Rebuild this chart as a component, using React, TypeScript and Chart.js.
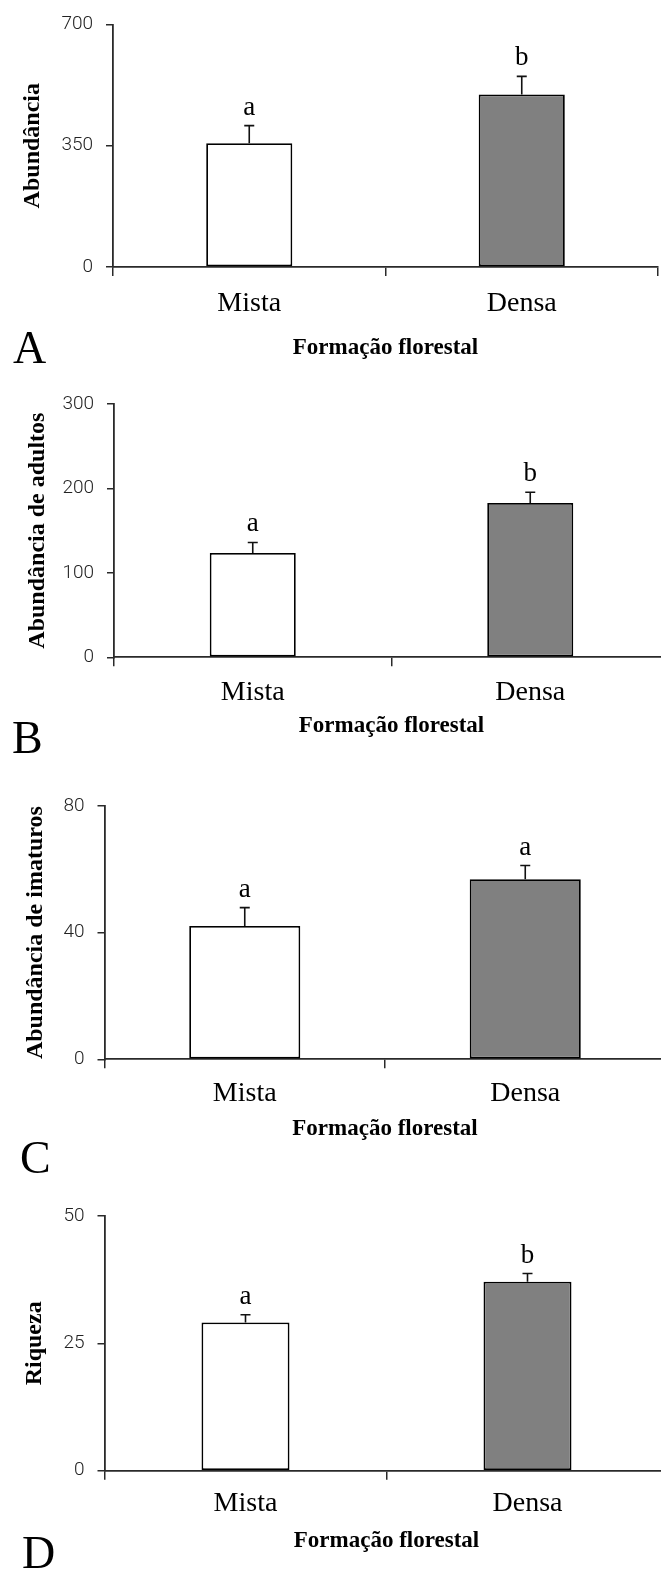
import React, { useEffect, useRef } from "react";
import { Chart, registerables } from "chart.js";

Chart.register(...registerables);

// ---------- data ----------
const categories = ["Mista", "Densa"];
const xAxisTitle = "Formação florestal";
const panelLetters = ["A", "B", "C", "D"];
const yTitles = ["Abundância", "Abundância de adultos", "Abundância de imaturos", "Riqueza"];

const abundanciaMeans = [357, 498];
const abundanciaErrors = [51, 52];
const abundanciaGroups = ["a", "b"];

const adultosMeans = [123.5, 182.8];
const adultosErrors = [12.5, 12.6];
const adultosGroups = ["a", "b"];

const imaturosMeans = [42.1, 56.9];
const imaturosErrors = [5.8, 4.3];
const imaturosGroups = ["a", "a"];

const riquezaMeans = [29.1, 37.1];
const riquezaErrors = [1.5, 1.6];
const riquezaGroups = ["a", "b"];

const yMaxes = [700, 300, 80, 50];
const ySteps = [350, 100, 40, 25];

const seriesMeans = [abundanciaMeans, adultosMeans, imaturosMeans, riquezaMeans];
const seriesErrors = [abundanciaErrors, adultosErrors, imaturosErrors, riquezaErrors];
const seriesGroups = [abundanciaGroups, adultosGroups, imaturosGroups, riquezaGroups];

const barColors = ["#ffffff", "#808080"];

// ---------- layout (pixels, relative to each panel canvas) ----------
const CANVAS_W = 680;
const layouts = [
  { top: 0, height: 375, left: 113, right: 658, areaTop: 14.3, areaBottom: 267, labelPad: 10.7, titlePad: 13.3, yTitlePad: 18.6, letterX: 13, letterY: 363, barPct: 0.316 },
  { top: 375, height: 390, left: 114, right: 669, areaTop: 29, areaBottom: 282.3, labelPad: 9.4, titlePad: 24.8, yTitlePad: 23.6, letterX: 12, letterY: 378, barPct: 0.31 },
  { top: 765, height: 411, left: 104.5, right: 665.5, areaTop: 41, areaBottom: 294.3, labelPad: 8.9, titlePad: 32.8, yTitlePad: 21.6, letterX: 20, letterY: 408, barPct: 0.396 },
  { top: 1176, height: 395, left: 104.5, right: 668.5, areaTop: 40, areaBottom: 294.7, labelPad: 7.5, titlePad: 15.8, yTitlePad: 20.6, letterX: 22, letterY: 392, barPct: 0.312 },
];

const SERIF = '"Liberation Serif", "Times New Roman", serif';
const AXIS_COLOR = "#2a2a2a";

const annotPlugin = {
  id: "annot",
  afterDatasetsDraw(chart: any, _args: any, opts: any) {
    const { ctx } = chart;
    const meta = chart.getDatasetMeta(0);
    const y = chart.scales.y;
    ctx.save();
    meta.data.forEach((bar: any, i: number) => {
      const top = y.getPixelForValue(opts.means[i] + opts.errors[i]);
      const x = bar.x;
      ctx.strokeStyle = "#111111";
      ctx.lineWidth = 1.6;
      ctx.beginPath();
      ctx.moveTo(x, bar.y);
      ctx.lineTo(x, top);
      ctx.moveTo(x - 5, top);
      ctx.lineTo(x + 5, top);
      ctx.stroke();
      ctx.fillStyle = "#000000";
      ctx.font = `27px ${SERIF}`;
      ctx.textAlign = "center";
      ctx.textBaseline = "alphabetic";
      ctx.fillText(opts.groups[i], x, top - 11);
    });
    ctx.fillStyle = "#000000";
    ctx.font = `46px ${SERIF}`;
    ctx.textAlign = "left";
    ctx.textBaseline = "alphabetic";
    ctx.fillText(opts.letter, opts.letterX, opts.letterY);
    ctx.restore();
  },
};

function Panel({ index }: { index: number }) {
  const ref = useRef<HTMLCanvasElement | null>(null);
  const L = layouts[index];

  useEffect(() => {
    if (!ref.current) return;
    const xAxisHeight = L.height - L.areaBottom;
    const chart = new Chart(ref.current, {
      type: "bar",
      data: {
        labels: categories,
        datasets: [
          {
            data: seriesMeans[index],
            backgroundColor: barColors,
            borderColor: "#000000",
            borderWidth: 1.8,
            borderSkipped: false,
            categoryPercentage: 1,
            barPercentage: L.barPct,
          },
        ],
      },
      options: {
        responsive: false,
        animation: false,
        devicePixelRatio: 1,
        layout: { padding: { top: L.areaTop, right: CANVAS_W - L.right, left: 0, bottom: 0 } },
        plugins: {
          legend: { display: false },
          tooltip: { enabled: false },
          annot: {
            means: seriesMeans[index],
            errors: seriesErrors[index],
            groups: seriesGroups[index],
            letter: panelLetters[index],
            letterX: L.letterX,
            letterY: L.letterY,
          },
        } as any,
        scales: {
          x: {
            offset: true,
            grid: {
              display: true,
              offset: true,
              drawOnChartArea: false,
              drawTicks: true,
              tickLength: 9,
              color: AXIS_COLOR,
              lineWidth: 1.5,
            },
            border: { display: true, color: AXIS_COLOR, width: 1.8 },
            ticks: {
              color: "#000000",
              font: { family: SERIF, size: 28 },
              padding: L.labelPad,
              maxRotation: 0,
            },
            title: {
              display: true,
              text: xAxisTitle,
              color: "#000000",
              font: { family: SERIF, size: 23, weight: "bold" },
              padding: { top: 0, bottom: L.titlePad },
            },
            afterFit: (scale: any) => {
              scale.height = xAxisHeight;
            },
          },
          y: {
            min: 0,
            max: yMaxes[index],
            grid: {
              display: true,
              drawOnChartArea: false,
              drawTicks: true,
              tickLength: 7,
              color: AXIS_COLOR,
              lineWidth: 1.5,
            },
            border: { display: true, color: AXIS_COLOR, width: 1.8 },
            ticks: {
              stepSize: ySteps[index],
              color: "#222222",
              font: { family: "Roboto, sans-serif", size: 19, weight: "300" },
              padding: 13,
            },
            title: {
              display: true,
              text: yTitles[index],
              color: "#000000",
              font: { family: SERIF, size: 24, weight: "bold" },
              padding: { top: L.yTitlePad, bottom: 0 },
            },
            afterFit: (scale: any) => {
              scale.width = L.left;
            },
          },
        },
      } as any,
      plugins: [annotPlugin],
    });
    return () => chart.destroy();
  }, [index]);

  return (
    <canvas
      ref={ref}
      width={CANVAS_W}
      height={L.height}
      style={{ position: "absolute", left: 0, top: L.top, width: CANVAS_W, height: L.height }}
    />
  );
}

export default function App() {
  useEffect(() => {
    document.body.style.margin = "0";
    document.body.style.overflow = "hidden";
  }, []);
  return (
    <div
      style={{
        position: "absolute",
        left: 0,
        top: 0,
        width: 661,
        height: 1571,
        overflow: "hidden",
        background: "#ffffff",
      }}
    >
      {layouts.map((_, i) => (
        <Panel key={i} index={i} />
      ))}
    </div>
  );
}
